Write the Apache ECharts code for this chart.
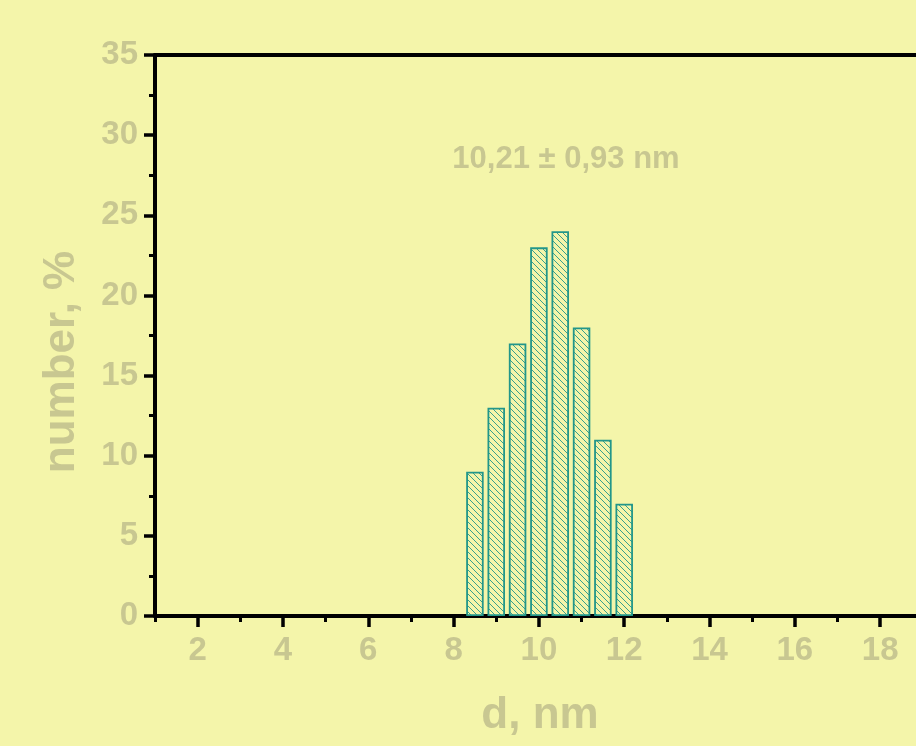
<!DOCTYPE html>
<html>
<head>
<meta charset="utf-8">
<script src="https://cdn.jsdelivr.net/npm/echarts@6/dist/echarts.min.js"></script>
<style>
  html, body { margin: 0; padding: 0; background: #f4f5aa; }
  #chart { width: 916px; height: 746px; }
</style>
</head>
<body>
<div id="chart"></div>
<script>
// size bins (nm) and number share (%)
const sizes = [8.5, 9, 9.5, 10, 10.5, 11, 11.5, 12];
const counts = [9, 13, 17, 23, 24, 18, 11, 7];
const xMajor = [2, 4, 6, 8, 10, 12, 14, 16, 18];
const xMinor = [1, 3, 5, 7, 9, 11, 13, 15, 17];
const note = '10,21 ± 0,93 nm';

const bg = '#f4f5aa';
const textColor = '#c8c791';
const teal = '#22968a';

// hatch pattern for the bars
function hatch() {
    const s = 6;
    const c = document.createElement('canvas');
    c.width = s; c.height = s;
    const ctx = c.getContext('2d');
    ctx.fillStyle = bg;
    ctx.fillRect(0, 0, s, s);
    ctx.strokeStyle = teal;
    ctx.lineWidth = 0.9;
    for (let k = -1; k <= 1; k++) {
        ctx.beginPath();
        ctx.moveTo(-1, -1 + k * s);
        ctx.lineTo(s + 1, s + 1 + k * s);
        ctx.stroke();
    }
    return c;
}

const chart = echarts.init(document.getElementById('chart'));
const font = { fontFamily: 'Liberation Sans, Arial, sans-serif', fontWeight: 'bold' };

chart.setOption({
    animation: false,
    backgroundColor: bg,
    grid: { left: 155, right: 0, top: 55, bottom: 130 },
    xAxis: [
        {
            type: 'value', min: 1, max: 18.84, position: 'bottom',
            splitLine: { show: false },
            axisLine: { lineStyle: { color: '#000', width: 4 } },
            axisTick: { customValues: xMajor, length: 11, lineStyle: { color: '#000', width: 3.5 } },
            axisLabel: { customValues: xMajor, margin: 18, color: textColor, fontSize: 33, ...font }
        },
        {
            type: 'value', min: 1, max: 18.84, position: 'bottom',
            splitLine: { show: false },
            axisLine: { show: false },
            axisTick: { customValues: xMinor, length: 6, lineStyle: { color: '#000', width: 3 } },
            axisLabel: { show: false }
        },
        {
            type: 'value', min: 1, max: 18.84, position: 'top',
            splitLine: { show: false },
            axisLine: { lineStyle: { color: '#000', width: 4 } },
            axisTick: { show: false },
            axisLabel: { show: false }
        }
    ],
    yAxis: {
        type: 'value', min: 0, max: 35, interval: 5,
        splitLine: { show: false },
        axisLine: { show: true, lineStyle: { color: '#000', width: 4 } },
        axisTick: { show: true, length: 11, lineStyle: { color: '#000', width: 3.5 } },
        minorTick: { show: true, splitNumber: 2, length: 6, lineStyle: { color: '#000', width: 3 } },
        axisLabel: { margin: 17, color: textColor, fontSize: 33, ...font }
    },
    graphic: [
        {
            type: 'text', x: 540, y: 716,
            style: { text: 'd, nm', fill: textColor, fontSize: 44, ...font, align: 'center', verticalAlign: 'middle' }
        },
        {
            type: 'text', x: 62, y: 362, rotation: Math.PI / 2,
            style: { text: 'number, %', fill: textColor, fontSize: 44, ...font, align: 'center', verticalAlign: 'middle' }
        },
        {
            type: 'text', x: 566, y: 159,
            style: { text: note, fill: textColor, fontSize: 31, ...font, align: 'center', verticalAlign: 'middle' }
        }
    ],
    series: [{
        type: 'bar',
        xAxisIndex: 0,
        barWidth: 17.5,
        data: sizes.map((s, i) => [s, counts[i]]),
        itemStyle: {
            color: { image: hatch(), repeat: 'repeat' },
            borderColor: teal,
            borderWidth: 1.8
        }
    }]
});
</script>
</body>
</html>
